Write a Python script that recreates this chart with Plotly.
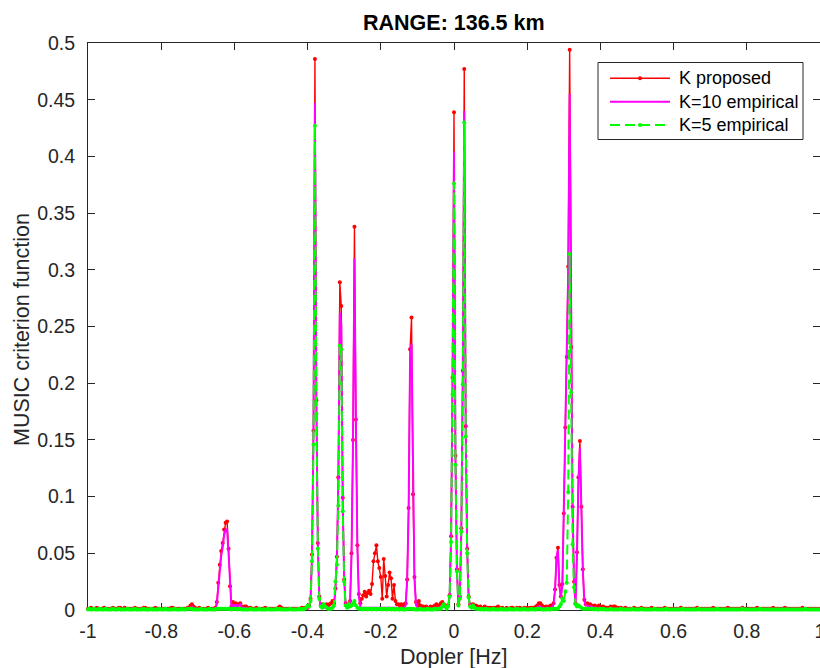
import numpy as np
import plotly.graph_objects as go

# Doppler bins: -1 Hz .. 1 Hz, 0.004 Hz spacing (501 bins)
FREQ_START = -1.0
FREQ_STOP = 1.0
N_BINS = 501
doppler = np.linspace(FREQ_START, FREQ_STOP, N_BINS)

SERIES_NAMES = ["K proposed", "K=10 empirical", "K=5 empirical"]

# MUSIC criterion per Doppler bin, 25 bins (0.1 Hz) per row
k_proposed = [
    0.001, 0.001, 0.002, 0.001, 0.001, 0.001, 0.002, 0.001, 0.001, 0.001, 0.001, 0.002, 0.001, 0.001, 0.001, 0.001, 0.001, 0.002, 0.001, 0.001, 0.001, 0.002, 0.002, 0.001, 0.001,
    0.002, 0.001, 0.001, 0.001, 0.001, 0.001, 0.001, 0.002, 0.001, 0.001, 0.001, 0.001, 0.001, 0.002, 0.002, 0.001, 0.001, 0.001, 0.001, 0.001, 0.001, 0.002, 0.001, 0.001, 0.001,
    0.001, 0.001, 0.001, 0.001, 0.001, 0.001, 0.001, 0.002, 0.002, 0.001, 0.001, 0.001, 0.001, 0.001, 0.001, 0.001, 0.001, 0.001, 0.002, 0.002, 0.004, 0.005, 0.003, 0.002, 0.001,
    0.001, 0.002, 0.001, 0.001, 0.001, 0.001, 0.001, 0.002, 0.001, 0.001, 0.001, 0.001, 0.002, 0.007, 0.024, 0.040, 0.052, 0.059, 0.071, 0.077, 0.078, 0.054, 0.021, 0.003, 0.007,
    0.004, 0.006, 0.003, 0.005, 0.006, 0.003, 0.002, 0.003, 0.003, 0.002, 0.001, 0.002, 0.001, 0.001, 0.001, 0.002, 0.001, 0.001, 0.001, 0.001, 0.001, 0.002, 0.001, 0.001, 0.001,
    0.001, 0.001, 0.001, 0.001, 0.001, 0.002, 0.003, 0.002, 0.001, 0.001, 0.001, 0.001, 0.001, 0.001, 0.001, 0.001, 0.001, 0.001, 0.001, 0.001, 0.001, 0.002, 0.001, 0.002, 0.002,
    0.002, 0.004, 0.010, 0.049, 0.158, 0.486, 0.185, 0.059, 0.012, 0.004, 0.005, 0.004, 0.004, 0.005, 0.004, 0.005, 0.006, 0.008, 0.006, 0.019, 0.047, 0.117, 0.289, 0.268, 0.099,
    0.027, 0.006, 0.004, 0.005, 0.008, 0.050, 0.150, 0.338, 0.168, 0.057, 0.014, 0.006, 0.010, 0.013, 0.016, 0.012, 0.015, 0.017, 0.014, 0.023, 0.043, 0.050, 0.057, 0.043, 0.037,
    0.029, 0.010, 0.045, 0.030, 0.012, 0.022, 0.033, 0.028, 0.010, 0.022, 0.008, 0.005, 0.005, 0.004, 0.005, 0.004, 0.005, 0.006, 0.027, 0.090, 0.230, 0.258, 0.102, 0.029, 0.007,
    0.004, 0.008, 0.004, 0.003, 0.003, 0.002, 0.003, 0.002, 0.002, 0.003, 0.002, 0.003, 0.004, 0.005, 0.004, 0.004, 0.006, 0.007, 0.005, 0.004, 0.003, 0.004, 0.013, 0.065, 0.205,
    0.439, 0.136, 0.036, 0.005, 0.012, 0.072, 0.211, 0.477, 0.162, 0.054, 0.012, 0.005, 0.004, 0.005, 0.003, 0.004, 0.003, 0.002, 0.003, 0.002, 0.002, 0.003, 0.002, 0.002, 0.002,
    0.002, 0.001, 0.002, 0.002, 0.001, 0.003, 0.002, 0.001, 0.002, 0.001, 0.001, 0.002, 0.001, 0.001, 0.002, 0.002, 0.001, 0.001, 0.002, 0.001, 0.002, 0.001, 0.001, 0.002, 0.001,
    0.002, 0.001, 0.002, 0.002, 0.002, 0.002, 0.003, 0.004, 0.006, 0.006, 0.004, 0.003, 0.002, 0.003, 0.002, 0.003, 0.004, 0.003, 0.006, 0.018, 0.046, 0.055, 0.022, 0.012, 0.023,
    0.085, 0.161, 0.223, 0.303, 0.494, 0.232, 0.091, 0.025, 0.006, 0.051, 0.117, 0.149, 0.091, 0.036, 0.009, 0.005, 0.006, 0.004, 0.005, 0.004, 0.003, 0.004, 0.003, 0.003, 0.004,
    0.003, 0.002, 0.003, 0.002, 0.002, 0.002, 0.002, 0.003, 0.002, 0.003, 0.003, 0.002, 0.002, 0.001, 0.002, 0.001, 0.001, 0.002, 0.001, 0.001, 0.001, 0.001, 0.001, 0.002, 0.001,
    0.001, 0.001, 0.001, 0.002, 0.001, 0.001, 0.001, 0.001, 0.001, 0.001, 0.002, 0.001, 0.001, 0.001, 0.001, 0.001, 0.001, 0.001, 0.001, 0.002, 0.001, 0.001, 0.001, 0.001, 0.001,
    0.001, 0.001, 0.001, 0.001, 0.001, 0.002, 0.001, 0.001, 0.001, 0.001, 0.001, 0.001, 0.001, 0.001, 0.001, 0.001, 0.002, 0.001, 0.001, 0.001, 0.001, 0.001, 0.001, 0.001, 0.001,
    0.001, 0.001, 0.002, 0.001, 0.001, 0.001, 0.001, 0.001, 0.001, 0.001, 0.001, 0.001, 0.002, 0.001, 0.001, 0.001, 0.001, 0.001, 0.001, 0.001, 0.001, 0.001, 0.002, 0.001, 0.001,
    0.001, 0.001, 0.001, 0.001, 0.001, 0.001, 0.001, 0.002, 0.001, 0.001, 0.001, 0.001, 0.001, 0.001, 0.001, 0.001, 0.001, 0.001, 0.002, 0.001, 0.001, 0.001, 0.001, 0.001, 0.001,
    0.001, 0.002, 0.001, 0.001, 0.001, 0.001, 0.001, 0.001, 0.001, 0.001, 0.001, 0.001, 0.001, 0.002, 0.001, 0.001, 0.001, 0.001, 0.001, 0.001, 0.001, 0.001, 0.001, 0.001, 0.001,
    0.001,
]

k10_empirical = [
    0.001, 0.001, 0.001, 0.001, 0.001, 0.001, 0.001, 0.001, 0.001, 0.001, 0.001, 0.001, 0.001, 0.001, 0.001, 0.001, 0.001, 0.001, 0.001, 0.001, 0.001, 0.001, 0.001, 0.001, 0.001,
    0.001, 0.001, 0.001, 0.001, 0.001, 0.001, 0.001, 0.001, 0.001, 0.001, 0.001, 0.001, 0.001, 0.001, 0.001, 0.001, 0.001, 0.001, 0.001, 0.001, 0.001, 0.001, 0.001, 0.001, 0.001,
    0.001, 0.001, 0.001, 0.001, 0.001, 0.001, 0.001, 0.001, 0.001, 0.001, 0.001, 0.001, 0.001, 0.001, 0.001, 0.001, 0.001, 0.001, 0.001, 0.001, 0.002, 0.003, 0.002, 0.001, 0.001,
    0.001, 0.001, 0.001, 0.001, 0.001, 0.001, 0.001, 0.001, 0.001, 0.001, 0.001, 0.001, 0.001, 0.005, 0.021, 0.037, 0.048, 0.055, 0.066, 0.071, 0.071, 0.050, 0.018, 0.002, 0.005,
    0.003, 0.005, 0.002, 0.004, 0.005, 0.002, 0.002, 0.002, 0.002, 0.001, 0.001, 0.001, 0.001, 0.001, 0.001, 0.001, 0.001, 0.001, 0.001, 0.001, 0.001, 0.001, 0.001, 0.001, 0.001,
    0.001, 0.001, 0.001, 0.001, 0.001, 0.001, 0.002, 0.001, 0.001, 0.001, 0.001, 0.001, 0.001, 0.001, 0.001, 0.001, 0.001, 0.001, 0.001, 0.001, 0.001, 0.001, 0.001, 0.001, 0.001,
    0.001, 0.002, 0.009, 0.047, 0.153, 0.447, 0.180, 0.057, 0.011, 0.003, 0.002, 0.002, 0.002, 0.002, 0.002, 0.002, 0.002, 0.003, 0.003, 0.018, 0.045, 0.112, 0.262, 0.252, 0.095,
    0.026, 0.004, 0.002, 0.002, 0.006, 0.048, 0.146, 0.310, 0.164, 0.055, 0.012, 0.003, 0.002, 0.002, 0.002, 0.002, 0.002, 0.002, 0.002, 0.002, 0.002, 0.002, 0.002, 0.002, 0.002,
    0.002, 0.002, 0.002, 0.002, 0.002, 0.002, 0.002, 0.002, 0.002, 0.002, 0.002, 0.002, 0.002, 0.002, 0.002, 0.002, 0.002, 0.004, 0.026, 0.087, 0.222, 0.235, 0.098, 0.028, 0.005,
    0.002, 0.002, 0.002, 0.001, 0.001, 0.001, 0.001, 0.001, 0.001, 0.001, 0.001, 0.001, 0.002, 0.002, 0.002, 0.002, 0.003, 0.003, 0.003, 0.002, 0.002, 0.003, 0.012, 0.063, 0.198,
    0.404, 0.132, 0.035, 0.004, 0.011, 0.071, 0.205, 0.440, 0.158, 0.053, 0.011, 0.003, 0.002, 0.003, 0.002, 0.002, 0.002, 0.001, 0.001, 0.001, 0.001, 0.001, 0.001, 0.001, 0.001,
    0.001, 0.001, 0.001, 0.001, 0.001, 0.001, 0.001, 0.001, 0.001, 0.001, 0.001, 0.001, 0.001, 0.001, 0.001, 0.001, 0.001, 0.001, 0.001, 0.001, 0.001, 0.001, 0.001, 0.001, 0.001,
    0.001, 0.001, 0.001, 0.001, 0.001, 0.001, 0.002, 0.002, 0.003, 0.003, 0.002, 0.002, 0.001, 0.002, 0.001, 0.002, 0.002, 0.002, 0.005, 0.017, 0.045, 0.053, 0.021, 0.011, 0.021,
    0.082, 0.157, 0.218, 0.296, 0.455, 0.227, 0.089, 0.024, 0.005, 0.049, 0.113, 0.143, 0.088, 0.035, 0.008, 0.004, 0.004, 0.003, 0.003, 0.003, 0.002, 0.002, 0.002, 0.002, 0.002,
    0.002, 0.001, 0.002, 0.001, 0.001, 0.001, 0.001, 0.002, 0.001, 0.001, 0.001, 0.001, 0.001, 0.001, 0.001, 0.001, 0.001, 0.001, 0.001, 0.001, 0.001, 0.001, 0.001, 0.001, 0.001,
    0.001, 0.001, 0.001, 0.001, 0.001, 0.001, 0.001, 0.001, 0.001, 0.001, 0.001, 0.001, 0.001, 0.001, 0.001, 0.001, 0.001, 0.001, 0.001, 0.001, 0.001, 0.001, 0.001, 0.001, 0.001,
    0.001, 0.001, 0.001, 0.001, 0.001, 0.001, 0.001, 0.001, 0.001, 0.001, 0.001, 0.001, 0.001, 0.001, 0.001, 0.001, 0.001, 0.001, 0.001, 0.001, 0.001, 0.001, 0.001, 0.001, 0.001,
    0.001, 0.001, 0.001, 0.001, 0.001, 0.001, 0.001, 0.001, 0.001, 0.001, 0.001, 0.001, 0.001, 0.001, 0.001, 0.001, 0.001, 0.001, 0.001, 0.001, 0.001, 0.001, 0.001, 0.001, 0.001,
    0.001, 0.001, 0.001, 0.001, 0.001, 0.001, 0.001, 0.001, 0.001, 0.001, 0.001, 0.001, 0.001, 0.001, 0.001, 0.001, 0.001, 0.001, 0.001, 0.001, 0.001, 0.001, 0.001, 0.001, 0.001,
    0.001, 0.001, 0.001, 0.001, 0.001, 0.001, 0.001, 0.001, 0.001, 0.001, 0.001, 0.001, 0.001, 0.001, 0.001, 0.001, 0.001, 0.001, 0.001, 0.001, 0.001, 0.001, 0.001, 0.001, 0.001,
    0.001,
]

k5_empirical = [
    0.0005, 0.001, 0.0005, 0.0005, 0.001, 0.0005, 0.0005, 0.0005, 0.001, 0.0005, 0.0005, 0.0005, 0.001, 0.0005, 0.0005, 0.0005, 0.0005, 0.001, 0.0005, 0.0005, 0.0005, 0.001, 0.0005, 0.0005, 0.0005,
    0.0005, 0.0005, 0.001, 0.0005, 0.0005, 0.0005, 0.0005, 0.001, 0.0005, 0.0005, 0.0005, 0.0005, 0.0005, 0.001, 0.0005, 0.0005, 0.0005, 0.0005, 0.001, 0.0005, 0.0005, 0.0005, 0.0005, 0.0005, 0.001,
    0.0005, 0.0005, 0.0005, 0.001, 0.0005, 0.0005, 0.0005, 0.0005, 0.0005, 0.001, 0.0005, 0.0005, 0.0005, 0.0005, 0.001, 0.0005, 0.0005, 0.0005, 0.001, 0.001, 0.001, 0.001, 0.0005, 0.0005, 0.0005,
    0.0005, 0.0005, 0.001, 0.0005, 0.0005, 0.0005, 0.0005, 0.0005, 0.001, 0.0005, 0.0005, 0.0005, 0.0005, 0.001, 0.001, 0.001, 0.001, 0.001, 0.001, 0.001, 0.001, 0.001, 0.001, 0.0005, 0.001,
    0.001, 0.001, 0.0005, 0.001, 0.001, 0.0005, 0.0005, 0.0005, 0.0005, 0.0005, 0.0005, 0.001, 0.0005, 0.0005, 0.0005, 0.0005, 0.0005, 0.001, 0.0005, 0.0005, 0.0005, 0.0005, 0.0005, 0.001, 0.0005,
    0.0005, 0.0005, 0.0005, 0.0005, 0.001, 0.0005, 0.001, 0.0005, 0.0005, 0.0005, 0.0005, 0.0005, 0.0005, 0.001, 0.0005, 0.0005, 0.0005, 0.0005, 0.0005, 0.001, 0.0005, 0.001, 0.0005, 0.001, 0.002,
    0.004, 0.003, 0.008, 0.043, 0.146, 0.427, 0.173, 0.054, 0.010, 0.003, 0.002, 0.005, 0.003, 0.002, 0.001, 0.001, 0.001, 0.002, 0.004, 0.025, 0.040, 0.092, 0.233, 0.230, 0.087,
    0.025, 0.004, 0.002, 0.005, 0.003, 0.004, 0.006, 0.008, 0.004, 0.002, 0.001, 0.001, 0.001, 0.0005, 0.001, 0.001, 0.0005, 0.001, 0.001, 0.0005, 0.001, 0.001, 0.0005, 0.001, 0.001,
    0.001, 0.0005, 0.001, 0.001, 0.0005, 0.001, 0.001, 0.0005, 0.001, 0.0005, 0.0005, 0.001, 0.0005, 0.0005, 0.001, 0.0005, 0.0005, 0.0005, 0.001, 0.001, 0.001, 0.001, 0.001, 0.0005, 0.0005,
    0.0005, 0.0005, 0.001, 0.0005, 0.0005, 0.0005, 0.0005, 0.001, 0.0005, 0.0005, 0.0005, 0.0005, 0.001, 0.0005, 0.001, 0.001, 0.001, 0.003, 0.005, 0.003, 0.001, 0.003, 0.012, 0.060, 0.190,
    0.376, 0.128, 0.034, 0.004, 0.010, 0.069, 0.199, 0.430, 0.153, 0.050, 0.011, 0.003, 0.002, 0.004, 0.002, 0.001, 0.001, 0.001, 0.0005, 0.001, 0.0005, 0.0005, 0.001, 0.0005, 0.0005,
    0.0005, 0.0005, 0.001, 0.0005, 0.0005, 0.0005, 0.0005, 0.001, 0.0005, 0.0005, 0.0005, 0.0005, 0.0005, 0.001, 0.0005, 0.0005, 0.0005, 0.0005, 0.001, 0.0005, 0.0005, 0.0005, 0.0005, 0.001, 0.0005,
    0.0005, 0.0005, 0.0005, 0.001, 0.0005, 0.0005, 0.0005, 0.001, 0.001, 0.001, 0.0005, 0.0005, 0.0005, 0.0005, 0.001, 0.0005, 0.0005, 0.001, 0.001, 0.001, 0.001, 0.001, 0.003, 0.005, 0.010,
    0.008, 0.016, 0.024, 0.104, 0.314, 0.192, 0.058, 0.020, 0.005, 0.003, 0.004, 0.003, 0.002, 0.001, 0.001, 0.001, 0.001, 0.001, 0.001, 0.001, 0.001, 0.0005, 0.001, 0.0005, 0.0005,
    0.001, 0.0005, 0.001, 0.0005, 0.0005, 0.0005, 0.0005, 0.001, 0.0005, 0.0005, 0.0005, 0.0005, 0.0005, 0.0005, 0.001, 0.0005, 0.0005, 0.0005, 0.0005, 0.0005, 0.0005, 0.0005, 0.001, 0.0005, 0.0005,
    0.0005, 0.0005, 0.0005, 0.001, 0.0005, 0.0005, 0.0005, 0.0005, 0.0005, 0.0005, 0.0005, 0.0005, 0.001, 0.0005, 0.0005, 0.0005, 0.0005, 0.0005, 0.0005, 0.0005, 0.001, 0.0005, 0.0005, 0.0005, 0.0005,
    0.0005, 0.0005, 0.0005, 0.0005, 0.0005, 0.0005, 0.001, 0.0005, 0.0005, 0.0005, 0.0005, 0.0005, 0.0005, 0.0005, 0.0005, 0.0005, 0.0005, 0.001, 0.0005, 0.0005, 0.0005, 0.0005, 0.0005, 0.0005, 0.0005,
    0.0005, 0.0005, 0.0005, 0.0005, 0.0005, 0.001, 0.0005, 0.0005, 0.0005, 0.0005, 0.0005, 0.0005, 0.0005, 0.0005, 0.0005, 0.0005, 0.0005, 0.0005, 0.0005, 0.0005, 0.0005, 0.0005, 0.001, 0.0005, 0.0005,
    0.0005, 0.0005, 0.0005, 0.0005, 0.0005, 0.0005, 0.0005, 0.0005, 0.0005, 0.001, 0.0005, 0.0005, 0.0005, 0.0005, 0.0005, 0.0005, 0.0005, 0.0005, 0.0005, 0.0005, 0.0005, 0.0005, 0.0005, 0.0005, 0.0005,
    0.0005, 0.0005, 0.0005, 0.0005, 0.0005, 0.0005, 0.0005, 0.0005, 0.0005, 0.0005, 0.0005, 0.0005, 0.0005, 0.0005, 0.0005, 0.001, 0.0005, 0.0005, 0.0005, 0.0005, 0.0005, 0.0005, 0.0005, 0.0005, 0.0005,
    0.0005,
]

for series in (k_proposed, k10_empirical, k5_empirical):
    assert len(series) == N_BINS, len(series)

X_TICKS = [-1, -0.8, -0.6, -0.4, -0.2, 0, 0.2, 0.4, 0.6, 0.8, 1]
X_TICK_TEXT = ["-1", "-0.8", "-0.6", "-0.4", "-0.2", "0", "0.2", "0.4", "0.6", "0.8", "1"]
Y_TICKS = [0, 0.05, 0.1, 0.15, 0.2, 0.25, 0.3, 0.35, 0.4, 0.45, 0.5]
Y_TICK_TEXT = ["0", "0.05", "0.1", "0.15", "0.2", "0.25", "0.3", "0.35", "0.4", "0.45", "0.5"]

TITLE = "RANGE: 136.5 km"
X_LABEL = "Dopler [Hz]"
Y_LABEL = "MUSIC criterion function"

RED, MAGENTA, GREEN = "#ff0000", "#ff00ff", "#00ff00"
AXIS_GREY = "#262626"
FONT = "Liberation Sans, Arial, Helvetica, sans-serif"

W, H = 820, 668
ML, MR, MT, MB = 88, 0, 43, 58


def px(x):
    """pixel column -> paper x"""
    return (x - ML) / (W - ML - MR)


def py(y):
    """pixel row -> paper y"""
    return (H - MB - y) / (H - MT - MB)


fig = go.Figure()
fig.add_trace(go.Scatter(
    x=doppler, y=k_proposed, name=SERIES_NAMES[0], mode="lines+markers",
    line=dict(color=RED, width=1.4), marker=dict(color=RED, size=4),
    cliponaxis=False, showlegend=False))
fig.add_trace(go.Scatter(
    x=doppler, y=k10_empirical, name=SERIES_NAMES[1], mode="lines",
    line=dict(color=MAGENTA, width=2), cliponaxis=False, showlegend=False))
fig.add_trace(go.Scatter(
    x=doppler, y=k5_empirical, name=SERIES_NAMES[2], mode="lines+markers",
    line=dict(color=GREEN, width=2, dash="10px,5px"), marker=dict(color=GREEN, size=4),
    cliponaxis=False, showlegend=False))

axis_common = dict(
    showgrid=False, zeroline=False, showline=True, linecolor=AXIS_GREY, linewidth=1,
    mirror="ticks", ticks="inside", ticklen=7, tickwidth=1, tickcolor=AXIS_GREY,
    tickfont=dict(family=FONT, size=19.5, color=AXIS_GREY), layer="below traces",
    ticklabeloverflow="allow", automargin=False,
)
fig.update_xaxes(range=[FREQ_START, FREQ_STOP], tickvals=X_TICKS, ticktext=X_TICK_TEXT,
                 ticklabelstandoff=4, **axis_common)
fig.update_yaxes(range=[0, 0.5], tickvals=Y_TICKS, ticktext=Y_TICK_TEXT,
                 ticklabelstandoff=8, **axis_common)

annotations = [
    dict(text=TITLE, x=0.5, y=py(23), xref="paper", yref="paper", showarrow=False,
         xanchor="center", yanchor="middle",
         font=dict(family=FONT, size=21.5, color="#000000", weight="bold")),
    dict(text=X_LABEL, x=0.5, y=py(657), xref="paper", yref="paper", showarrow=False,
         xanchor="center", yanchor="middle", font=dict(family=FONT, size=21.5, color=AXIS_GREY)),
    dict(text=Y_LABEL, x=px(22), y=py(330), xref="paper", yref="paper", showarrow=False,
         xanchor="center", yanchor="middle", textangle=-90,
         font=dict(family=FONT, size=21.5, color=AXIS_GREY)),
]

# legend box drawn by hand (MATLAB style: long line samples, marker in the middle)
shapes = [dict(type="rect", xref="paper", yref="paper", x0=px(598), x1=px(803),
               y0=py(139.5), y1=py(62.5), line=dict(color=AXIS_GREY, width=1),
               fillcolor="white", layer="above")]
legend_rows = [78.3, 101.7, 125.0]
legend_styles = [(RED, 1.4, "solid", True), (MAGENTA, 2, "solid", False),
                 (GREEN, 2, "10px,5px", True)]
for name, row, (col, lw, dash, has_marker) in zip(SERIES_NAMES, legend_rows, legend_styles):
    shapes.append(dict(type="line", xref="paper", yref="paper", x0=px(610), x1=px(670),
                       y0=py(row), y1=py(row), line=dict(color=col, width=lw, dash=dash),
                       layer="above"))
    if has_marker:
        shapes.append(dict(type="circle", xref="paper", yref="paper", x0=px(638), x1=px(642),
                           y0=py(row + 2), y1=py(row - 2), line=dict(color=col, width=0),
                           fillcolor=col, layer="above"))
    annotations.append(dict(text=name, x=px(676.5), y=py(row), xref="paper", yref="paper",
                            showarrow=False, xanchor="left", yanchor="middle",
                            font=dict(family=FONT, size=18, color="#000000")))

fig.update_layout(
    width=W, height=H, margin=dict(l=ML, r=MR, t=MT, b=MB, autoexpand=False),
    paper_bgcolor="white", plot_bgcolor="white",
    annotations=annotations, shapes=shapes, showlegend=False,
)

fig.write_html("out.html")
